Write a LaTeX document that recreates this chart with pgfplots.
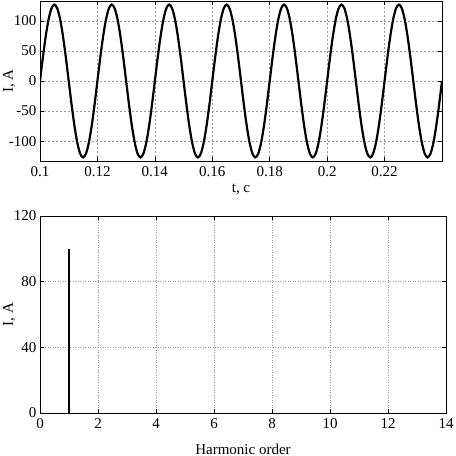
\documentclass[border=0pt]{standalone}
\usepackage{fontspec}
\setmainfont{Liberation Serif}
\usepackage{pgfplots}
\pgfplotsset{compat=1.18}
\pgfplotsset{
  matstyle/.style={
    scale only axis,
    axis line style={black, line width=0.8pt},
    tick align=inside,
    major tick length=4pt,
    tick style={black, line width=0.6pt},
    grid=major,
    font=\fontsize{15}{17}\selectfont,
    tick label style={font=\fontsize{15}{17}\selectfont},
    label style={font=\fontsize{15}{17}\selectfont},
    xticklabel style={yshift=-2pt},
    /pgf/number format/assume math mode=true,
    scaled ticks=false,
  }
}
\begin{document}
\begin{tikzpicture}
\path[use as bounding box] (0pt,0pt) rectangle (456pt,456pt);
% time signal
\begin{axis}[matstyle,
    at={(40pt,295pt)}, anchor=south west,
    width=402pt, height=160pt,
    xmin=0.1, xmax=0.24, ymin=-133, ymax=133,
    xtick={0.1,0.12,0.14,0.16,0.18,0.2,0.22},
    xticklabels={0.1,0.12,0.14,0.16,0.18,0.2,0.22},
    ytick={-100,-50,0,50,100},
    grid style={gray!80, line width=0.5pt, dash pattern=on 2pt off 2pt},
    xlabel={t, c}, ylabel={I, A},
    xlabel style={at={(axis description cs:0.5,-0.18)}, anchor=center},
    ylabel style={at={(axis description cs:-0.077,0.5)}, anchor=center},
  ]
  \addplot[black, line width=2.2pt, smooth] coordinates {
    (0.100,0)(0.101,39.2)(0.102,74.6)(0.103,102.7)(0.104,120.8)(0.105,127)(0.106,120.8)(0.107,102.7)(0.108,74.6)(0.109,39.2)
    (0.110,0)(0.111,-39.2)(0.112,-74.6)(0.113,-102.7)(0.114,-120.8)(0.115,-127)(0.116,-120.8)(0.117,-102.7)(0.118,-74.6)(0.119,-39.2)
    (0.120,0)(0.121,39.2)(0.122,74.6)(0.123,102.7)(0.124,120.8)(0.125,127)(0.126,120.8)(0.127,102.7)(0.128,74.6)(0.129,39.2)
    (0.130,0)(0.131,-39.2)(0.132,-74.6)(0.133,-102.7)(0.134,-120.8)(0.135,-127)(0.136,-120.8)(0.137,-102.7)(0.138,-74.6)(0.139,-39.2)
    (0.140,0)(0.141,39.2)(0.142,74.6)(0.143,102.7)(0.144,120.8)(0.145,127)(0.146,120.8)(0.147,102.7)(0.148,74.6)(0.149,39.2)
    (0.150,0)(0.151,-39.2)(0.152,-74.6)(0.153,-102.7)(0.154,-120.8)(0.155,-127)(0.156,-120.8)(0.157,-102.7)(0.158,-74.6)(0.159,-39.2)
    (0.160,0)(0.161,39.2)(0.162,74.6)(0.163,102.7)(0.164,120.8)(0.165,127)(0.166,120.8)(0.167,102.7)(0.168,74.6)(0.169,39.2)
    (0.170,0)(0.171,-39.2)(0.172,-74.6)(0.173,-102.7)(0.174,-120.8)(0.175,-127)(0.176,-120.8)(0.177,-102.7)(0.178,-74.6)(0.179,-39.2)
    (0.180,0)(0.181,39.2)(0.182,74.6)(0.183,102.7)(0.184,120.8)(0.185,127)(0.186,120.8)(0.187,102.7)(0.188,74.6)(0.189,39.2)
    (0.190,0)(0.191,-39.2)(0.192,-74.6)(0.193,-102.7)(0.194,-120.8)(0.195,-127)(0.196,-120.8)(0.197,-102.7)(0.198,-74.6)(0.199,-39.2)
    (0.200,0)(0.201,39.2)(0.202,74.6)(0.203,102.7)(0.204,120.8)(0.205,127)(0.206,120.8)(0.207,102.7)(0.208,74.6)(0.209,39.2)
    (0.210,0)(0.211,-39.2)(0.212,-74.6)(0.213,-102.7)(0.214,-120.8)(0.215,-127)(0.216,-120.8)(0.217,-102.7)(0.218,-74.6)(0.219,-39.2)
    (0.220,0)(0.221,39.2)(0.222,74.6)(0.223,102.7)(0.224,120.8)(0.225,127)(0.226,120.8)(0.227,102.7)(0.228,74.6)(0.229,39.2)
    (0.230,0)(0.231,-39.2)(0.232,-74.6)(0.233,-102.7)(0.234,-120.8)(0.235,-127)(0.236,-120.8)(0.237,-102.7)(0.238,-74.6)(0.239,-39.2)
    (0.240,0)
  };
\end{axis}
% harmonic spectrum
\begin{axis}[matstyle,
    at={(40pt,43pt)}, anchor=south west,
    width=406pt, height=197pt,
    xmin=0, xmax=14, ymin=0, ymax=120,
    xtick={0,2,4,6,8,10,12,14},
    ytick={0,40,80,120},
    grid style={gray!80, line width=0.5pt, dash pattern=on 1pt off 1.5pt},
    xlabel={Harmonic order}, ylabel={I, A},
    xlabel style={at={(axis description cs:0.5,-0.183)}, anchor=center},
    ylabel style={at={(axis description cs:-0.076,0.5)}, anchor=center},
  ]
  \addplot[black, line width=2pt, ycomb, mark=none] coordinates {(1,100)};
\end{axis}
\end{tikzpicture}
\end{document}
